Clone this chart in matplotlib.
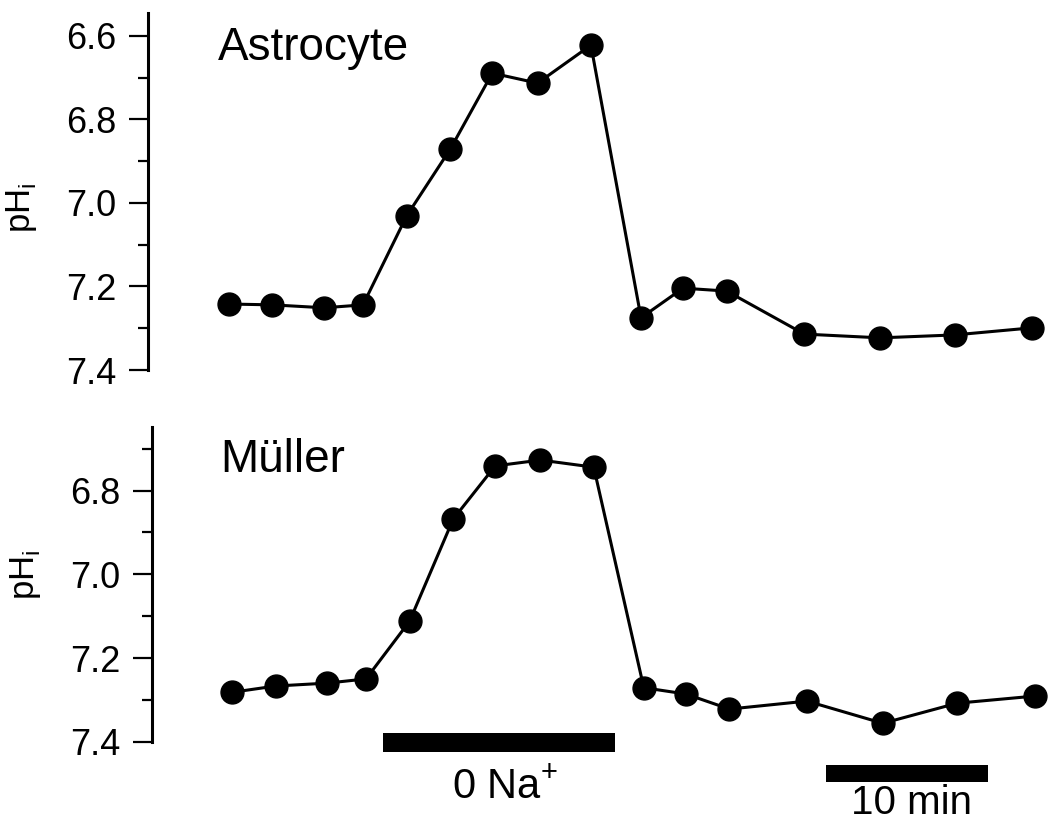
import numpy as np
import matplotlib
matplotlib.use("Agg")
import matplotlib.pyplot as plt
from matplotlib.ticker import MultipleLocator

plt.rcParams['font.family'] = ['Liberation Sans', 'DejaVu Sans']

# Zeit (min) und pHi-Werte
t = [0, 2.7, 5.9, 8.3, 11.0, 13.7, 16.3, 19.1, 22.4, 25.5, 28.1, 30.8, 35.6, 40.3, 44.9, 49.7]
ph_astro = [7.242, 7.244, 7.251, 7.244, 7.031, 6.871, 6.689, 6.713, 6.622, 7.275,
            7.204, 7.211, 7.314, 7.323, 7.316, 7.299]
ph_muller = [7.282, 7.267, 7.260, 7.250, 7.112, 6.868, 6.741, 6.727, 6.744, 7.271,
             7.286, 7.322, 7.303, 7.356, 7.308, 7.291]

na_free = (9.35, 23.7)   # 0 Na+ Periode
scale_min = (36.8, 46.8)  # 10 min Balken

W, H = 1050, 822
fig = plt.figure(figsize=(W / 100, H / 100), dpi=100)

# Achsen in Pixeln: links, oben, unten
ax1 = fig.add_axes([148 / W, 1 - 370 / H, (W - 148) / W, (370 - 13) / H])
ax2 = fig.add_axes([152 / W, 1 - 741.7 / H, (W - 152) / W, (741.7 - 427) / H])

panels = [
    (ax1, ph_astro, 6.545, (-5.0, 50.8), 0.454),
    (ax2, ph_muller, 6.648, (-4.95, 50.65), 0.53),
]

for ax, ph, ytop, xl, ylab_y in panels:
    ax.plot(t, ph, '-o', color='black', lw=2.2, ms=16.5, clip_on=False)
    ax.set_ylim(7.4, ytop)
    ax.set_xlim(*xl)
    ax.yaxis.set_major_locator(MultipleLocator(0.2))
    ax.yaxis.set_minor_locator(MultipleLocator(0.1))
    ax.yaxis.set_major_formatter(matplotlib.ticker.FormatStrFormatter('%.1f'))
    ax.tick_params(axis='y', which='major', length=14, width=1.6, labelsize=26, pad=9)
    ax.tick_params(axis='y', which='minor', length=7, width=1.6)
    for s in ['top', 'right', 'bottom']:
        ax.spines[s].set_visible(False)
    ax.spines['left'].set_linewidth(2.2)
    ax.spines['left'].set_bounds(7.4, ytop)
    ax.xaxis.set_visible(False)
    ax.set_ylabel(r'pH$_\mathregular{i}$', fontsize=25)
    ax.yaxis.set_label_coords(-0.121, ylab_y)

ax1.text(70 / 902, (370 - 60) / 357, 'Astrocyte', fontsize=33, transform=ax1.transAxes)
ax2.text(68 / 898, (741.7 - 472) / 314.7, 'Müller', fontsize=33, transform=ax2.transAxes)

# Balken unter dem unteren Panel
ax2.fill_between(na_free, 7.380, 7.425, color='black', lw=0, clip_on=False)
ax2.text(np.mean(na_free) + 0.4, 7.535, r'0 Na$^\mathregular{+}$', fontsize=30,
         ha='center', va='baseline')
ax2.fill_between(scale_min, 7.456, 7.497, color='black', lw=0, clip_on=False)
ax2.text(np.mean(scale_min) + 0.3, 7.572, '10 min', fontsize=29,
         ha='center', va='baseline')

fig.savefig('out.png', dpi=100)
